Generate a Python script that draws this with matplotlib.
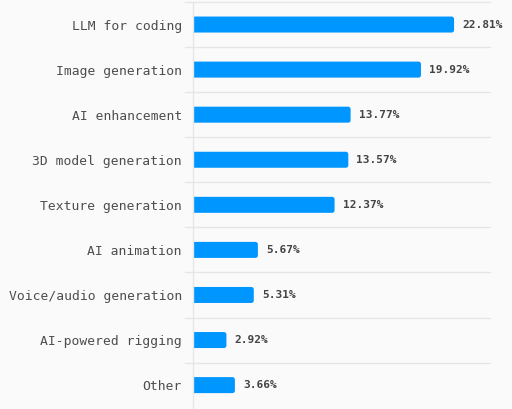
import matplotlib
matplotlib.use("Agg")
import matplotlib.pyplot as plt
from matplotlib.patches import FancyBboxPatch

categories = ["LLM for coding", "Image generation", "AI enhancement", "3D model generation",
              "Texture generation", "AI animation", "Voice/audio generation",
              "AI-powered rigging", "Other"]
values = [22.81, 19.92, 13.77, 13.57, 12.37, 5.67, 5.31, 2.92, 3.66]
value_labels = ["22.81%", "19.92%", "13.77%", "13.57%", "12.37%", "5.67%", "5.31%", "2.92%", "3.66%"]

W, H = 512, 409
bg = "#fafafa"
bar_color = "#0096ff"
grid_color = "#e6e6e6"

fig = plt.figure(figsize=(W / 100, H / 100), dpi=100, facecolor=bg)
left_px, right_px, top_px = 193, 490, 2
ax = fig.add_axes([left_px / W, 0, (right_px - left_px) / W, (H - top_px) / H])
ax.set_facecolor(bg)

n = len(categories)
ypos = list(range(n))
bar_h = 0.355
bars = ax.barh(ypos, values, height=bar_h, color=bar_color)

xmax = 25.95
ax.set_xlim(0, xmax)
ax.set_ylim(n - 1 + 0.53, -0.5)

# rounded bars
px_per_x = (right_px - left_px) / xmax
px_per_y = (H - top_px) / (n - 1 + 0.53 + 0.5)
aspect = px_per_x / px_per_y
r = 2.5 / px_per_x
for b in bars:
    x0, y0 = b.get_x(), b.get_y()
    w, h = b.get_width(), b.get_height()
    b.set_visible(False)
    p = FancyBboxPatch((x0 - 2 * r, y0), w + 2 * r, h,
                       boxstyle=f"round,pad=0,rounding_size={r}",
                       mutation_aspect=aspect, facecolor=bar_color,
                       edgecolor="none", clip_on=True)
    ax.add_patch(p)

# separators
xmin_ax = (185 - left_px) / (right_px - left_px)
for i in range(n):
    ax.axhline(i - 0.5, xmin=xmin_ax, xmax=1, color=grid_color, lw=1, clip_on=False, zorder=0)

for s in ["top", "right", "bottom"]:
    ax.spines[s].set_visible(False)
ax.spines["left"].set_color(grid_color)
ax.spines["left"].set_linewidth(1)

ax.set_xticks([])
ax.set_yticks(ypos)
ax.set_yticklabels(categories, family="DejaVu Sans Mono", fontsize=9.4, color="#4d4d4d")
ax.tick_params(axis="y", length=0, pad=8)

for y, v, lab in zip(ypos, values, value_labels):
    ax.annotate(lab, (v, y), xytext=(8, 0), textcoords="offset pixels",
                va="center", ha="left", family="DejaVu Sans Mono",
                fontsize=8, fontweight="bold", color="#444444")

fig.savefig("out.png", dpi=100, facecolor=bg)
